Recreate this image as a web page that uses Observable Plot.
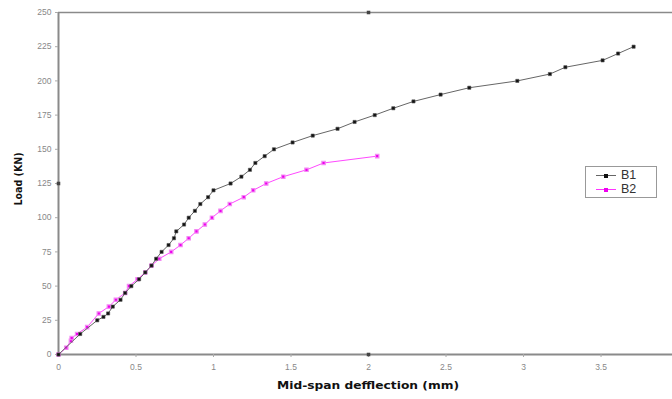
<!DOCTYPE html>
<html><head><meta charset="utf-8">
<script src="https://cdn.jsdelivr.net/npm/d3@7"></script>
<script src="https://cdn.jsdelivr.net/npm/@observablehq/plot@0.6"></script>
<style>
body{margin:0;background:#fff;font-family:"Liberation Sans",Arial,sans-serif;}
#wrap{position:relative;width:672px;height:399px;}
#legend{position:absolute;left:585px;top:166px;width:72px;height:32px;border:1.5px solid #999;background:#fff;box-sizing:border-box;font-size:12.5px;line-height:13px;color:#333;}
.row{position:absolute;left:10px;height:13px;display:flex;align-items:center;}
.row span.t{display:block;height:13px;line-height:13px;}
.sw{position:relative;width:20px;height:1px;margin-right:5px;}
.sw i{position:absolute;left:8px;top:-1.5px;width:4px;height:4px;}
</style></head><body>
<div id="wrap"><div id="legend"></div></div>
<script>
const seriesNames = ["B1", "B2"];
const seriesColors = ["#111111", "#ee00ee"];
const lineColors = ["#666666", "#ff33ff"];
const b1X = [0, 0.14, 0.25, 0.29, 0.32, 0.35, 0.40, 0.43, 0.47, 0.52, 0.56, 0.60, 0.63, 0.665, 0.71, 0.745, 0.76, 0.81, 0.84, 0.88, 0.915, 0.965, 1.0, 1.11, 1.18, 1.235, 1.27, 1.33, 1.39, 1.51, 1.64, 1.80, 1.91, 2.04, 2.16, 2.29, 2.465, 2.65, 2.96, 3.17, 3.27, 3.51, 3.61, 3.71];
const b1Y = [0, 15, 25, 27.5, 30, 35, 40, 45, 50, 55, 60, 65, 70, 75, 80, 85, 90, 95, 100, 105, 110, 115, 120, 125, 130, 135, 140, 145, 150, 155, 160, 165, 170, 175, 180, 185, 190, 195, 200, 205, 210, 215, 220, 225];
const b2X = [0, 0.05, 0.08, 0.085, 0.12, 0.185, 0.26, 0.325, 0.37, 0.43, 0.455, 0.51, 0.56, 0.6, 0.65, 0.727, 0.787, 0.84, 0.89, 0.944, 0.99, 1.045, 1.105, 1.195, 1.256, 1.34, 1.45, 1.60, 1.71, 2.056];
const b2Y = [0, 5, 10, 12, 15, 20, 30, 35, 40, 45, 50, 55, 60, 65, 70, 75, 80, 85, 90, 95, 100, 105, 110, 115, 120, 125, 130, 135, 140, 145];
const strayX = [2, 0, 2];
const strayY = [250, 125, 0];
const yTicks = [0, 25, 50, 75, 100, 125, 150, 175, 200, 225, 250];
const xTicks = [0, 0.5, 1, 1.5, 2, 2.5, 3, 3.5];
const xTitle = "Mid-span defflection (mm)";
const yTitle = "Load (KN)";

const b1 = b1X.map((x, i) => ({x, y: b1Y[i], s: "B1"}));
const b2 = b2X.map((x, i) => ({x, y: b2Y[i], s: "B2"}));
const stray = strayX.map((x, i) => ({x, y: strayY[i]}));

const chart = Plot.plot({
  width: 672, height: 399,
  marginLeft: 58, marginRight: 0, marginTop: 12, marginBottom: 45,
  style: {fontFamily: "'Liberation Sans', Arial, sans-serif", background: "#fff"},
  x: {domain: [0, 3.961], ticks: xTicks, tickFormat: d => String(d), label: null},
  y: {domain: [0, 250], ticks: yTicks, label: null},
  marks: [
    Plot.ruleY([250], {stroke: "#8a8a8a", strokeWidth: 1.5}),
    Plot.ruleX([0], {stroke: "#8a8a8a", strokeWidth: 2}),
    Plot.ruleY([0], {stroke: "#8a8a8a", strokeWidth: 2}),
    Plot.axisY({ticks: yTicks, tickSize: 3, tickPadding: 4, fontSize: 8.5, fill: "#888", stroke: "#aaa"}),
    Plot.axisX({ticks: xTicks, tickSize: 3, tickPadding: 6, fontSize: 8.5, fill: "#888", stroke: "#aaa", tickFormat: d => String(d)}),
    Plot.line(b2, {x: "x", y: "y", stroke: lineColors[1], strokeWidth: 0.9}),
    Plot.dot(b2, {x: "x", y: "y", symbol: "square", r: 1.9, fill: seriesColors[1], stroke: "#f38af3", strokeWidth: 1.2}),
    Plot.line(b1, {x: "x", y: "y", stroke: lineColors[0], strokeWidth: 1}),
    Plot.dot(b1, {x: "x", y: "y", symbol: "square", r: 1.8, fill: seriesColors[0], stroke: "#555", strokeWidth: 0.6}),
    Plot.dot(stray, {x: "x", y: "y", symbol: "square", r: 2, fill: "#444"})
  ]
});
const svg = d3.select(chart);
svg.append("text").attr("x", 368).attr("y", 389).attr("text-anchor", "middle")
  .attr("font-family", "'DejaVu Sans', Verdana, sans-serif")
  .attr("font-weight", "bold").attr("font-size", 11).attr("fill", "#111")
  .attr("textLength", 182).attr("lengthAdjust", "spacingAndGlyphs").text(xTitle);
svg.append("text").attr("transform", "translate(22,179) rotate(-90)").attr("text-anchor", "middle")
  .attr("font-family", "'DejaVu Sans', Verdana, sans-serif")
  .attr("font-weight", "bold").attr("font-size", 11).attr("fill", "#111")
  .attr("textLength", 53).attr("lengthAdjust", "spacingAndGlyphs").text(yTitle);
document.getElementById("wrap").prepend(chart);

const lg = document.getElementById("legend");
seriesNames.forEach((n, i) => {
  const row = document.createElement("div");
  row.className = "row";
  row.style.top = (2 + i * 14) + "px";
  row.innerHTML = `<span class="sw" style="background:${lineColors[i]}"><i style="background:${seriesColors[i]}"></i></span><span class="t">${n}</span>`;
  lg.appendChild(row);
});
</script>
</body></html>
